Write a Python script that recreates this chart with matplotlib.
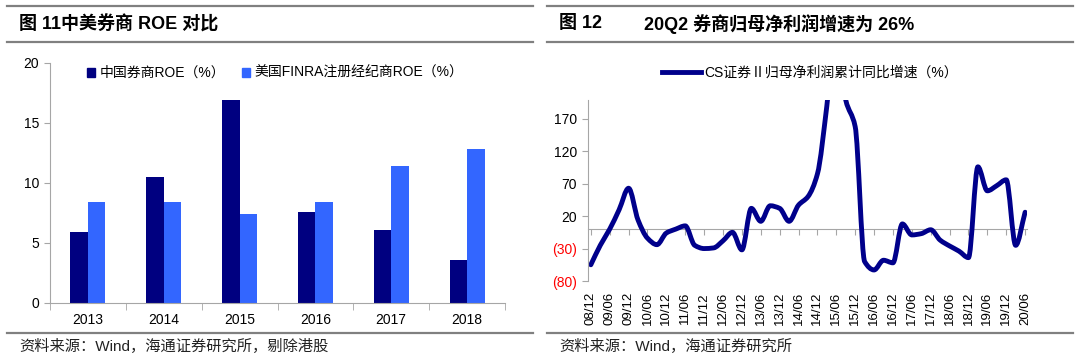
import numpy as np
import matplotlib
matplotlib.use("Agg")
import matplotlib.pyplot as plt
from matplotlib.patches import Patch, PathPatch
from matplotlib.lines import Line2D
from matplotlib.path import Path

plt.rcParams['font.family'] = ['Liberation Sans', 'Noto Sans CJK SC']
plt.rcParams['axes.unicode_minus'] = False

# ---- left chart data: ROE (%) ----
years = ['2013', '2014', '2015', '2016', '2017', '2018']
roe_cn = [5.9, 10.5, 16.9, 7.6, 6.1, 3.55]
roe_us = [8.4, 8.4, 7.45, 8.4, 11.4, 12.8]

# ---- right chart data: quarterly yoy growth (%) 08/12 .. 20/06 ----
growth = [-55, -25, 0, 30, 63,
          14, -14, -24, -6,
          0, 5, -25, -30,
          -29, -18, -5, -32,
          32, 12, 36, 32,
          12, 37, 50, 85,
          190, 320, 199, 158,
          -50, -63, -48, -52,
          8, -9, -7, -1,
          -17, -26, -34, -44,
          96, 59, 67, 76,
          -25, 26]
half_labels = ['08/12', '09/06', '09/12', '10/06', '10/12', '11/06', '11/12',
               '12/06', '12/12', '13/06', '13/12', '14/06', '14/12', '15/06',
               '15/12', '16/06', '16/12', '17/06', '17/12', '18/06', '18/12',
               '19/06', '19/12', '20/06']
yticks_r = [-80, -30, 20, 70, 120, 170]
ylabels_r = ['(80)', '(30)', '20', '70', '120', '170']

dark = '#000080'
light = '#3366FF'
line_c = '#00008B'
axis_gray = '#A6A6A6'
rule_gray = '#808080'

W, H = 1080, 363
fig = plt.figure(figsize=(W / 100, H / 100), dpi=100)

def fx(px):
    return px / W

def fy(py):
    return 1 - py / H

# smoothed line through every data point (monotone cubic, drawn as bezier)
def smooth_path(xs, ys):
    xs = np.asarray(xs, float)
    ys = np.asarray(ys, float)
    h = np.diff(xs)
    d = np.diff(ys) / h
    m = np.zeros_like(ys)
    m[0], m[-1] = d[0], d[-1]
    for i in range(1, len(ys) - 1):
        if d[i - 1] * d[i] > 0:
            m[i] = 2 / (1 / d[i - 1] + 1 / d[i])
    verts = [(xs[0], ys[0])]
    codes = [Path.MOVETO]
    for i in range(len(xs) - 1):
        verts += [(xs[i] + h[i] / 3, ys[i] + m[i] * h[i] / 3),
                  (xs[i + 1] - h[i] / 3, ys[i + 1] - m[i + 1] * h[i] / 3),
                  (xs[i + 1], ys[i + 1])]
        codes += [Path.CURVE4] * 3
    return Path(verts, codes)

# header / footer rules
for x0, x1 in [(7, 533), (547, 1073)]:
    for yy in (6, 42, 333):
        fig.add_artist(Line2D([fx(x0), fx(x1)], [fy(yy), fy(yy)], color=rule_gray, lw=1.6))

fig.text(fx(19), fy(24), '图 11中美券商 ROE 对比', fontsize=13, fontweight='bold', va='center', ha='left')
fig.text(fx(559), fy(24), '图 12', fontsize=13, fontweight='bold', va='center', ha='left')
fig.text(fx(644), fy(24), '20Q2 券商归母净利润增速为 26%', fontsize=13, fontweight='bold', va='center', ha='left')
fig.text(fx(19), fy(346), '资料来源：Wind，海通证券研究所，剔除港股', fontsize=11, va='center', ha='left', color='#222222')
fig.text(fx(559), fy(346), '资料来源：Wind，海通证券研究所', fontsize=11, va='center', ha='left', color='#222222')

# ---- left: bars ----
ax1 = fig.add_axes([fx(50), fy(303), fx(505) - fx(50), fy(63) - fy(303)])
x = np.arange(len(years))
bw = 0.23
ax1.bar(x - bw / 2, roe_cn, bw, color=dark)
ax1.bar(x + bw / 2, roe_us, bw, color=light)
ax1.set_xlim(-0.5, len(years) - 0.5)
ax1.set_ylim(0, 20)
ax1.set_yticks([0, 5, 10, 15, 20])
ax1.set_xticks(x)
ax1.set_xticklabels(years)
ax1.set_xticks(np.arange(-0.5, len(years)), minor=True)
ax1.tick_params(axis='x', which='major', length=0, pad=7, labelsize=10)
ax1.tick_params(axis='x', which='minor', length=5, color=axis_gray)
ax1.tick_params(axis='y', length=4, color=axis_gray, labelsize=10, pad=4)
for s in ['top', 'right']:
    ax1.spines[s].set_visible(False)
for s in ['left', 'bottom']:
    ax1.spines[s].set_color(axis_gray)

fig.legend(handles=[Patch(color=dark, label='中国券商ROE（%）'),
                    Patch(color=light, label='美国FINRA注册经纪商ROE（%）')],
           loc='center', bbox_to_anchor=(fx(275), fy(73)), ncol=2, frameon=False,
           fontsize=10, handlelength=0.6, handleheight=0.6, handletextpad=0.3,
           columnspacing=1.2)

# ---- right: line ----
ax2 = fig.add_axes([fx(588), fy(281), fx(1027) - fx(588), fy(100) - fy(281)])
q = np.arange(len(growth))
ax2.add_patch(PathPatch(smooth_path(q, growth), facecolor='none', edgecolor=line_c,
                        lw=3.5, joinstyle='round', capstyle='round'))
ymin, ymax = -80, 199
ax2.set_ylim(ymin, ymax)
ax2.set_xlim(-0.3, len(growth) - 0.8)
ax2.set_yticks(yticks_r)
ax2.set_yticklabels(ylabels_r)
for lab, v in zip(ax2.get_yticklabels(), yticks_r):
    lab.set_color('#FF0000' if v < 0 else 'black')
ax2.tick_params(axis='y', length=4, color=axis_gray, labelsize=10, pad=4)
ax2.set_xticks(q[::2])
ax2.set_xticklabels(half_labels, rotation=90)
ax2.tick_params(axis='x', length=0, pad=8, labelsize=9.5)
for s in ['top', 'right', 'bottom']:
    ax2.spines[s].set_visible(False)
ax2.spines['left'].set_color(axis_gray)

sec = ax2.secondary_xaxis((0 - ymin) / (ymax - ymin))
sec.set_xticks(q[::2])
sec.tick_params(axis='x', length=4, color=axis_gray, labelbottom=False, labeltop=False)
sec.spines['bottom'].set_color(axis_gray)
sec.spines['top'].set_color(axis_gray)

fig.legend(handles=[Line2D([], [], color=line_c, lw=3.5, label='CS证券Ⅱ归母净利润累计同比增速（%）')],
           loc='center', bbox_to_anchor=(fx(810), fy(73)), frameon=False,
           fontsize=10, handlelength=2.8, handletextpad=0.3)

fig.savefig('out.png', dpi=100)
